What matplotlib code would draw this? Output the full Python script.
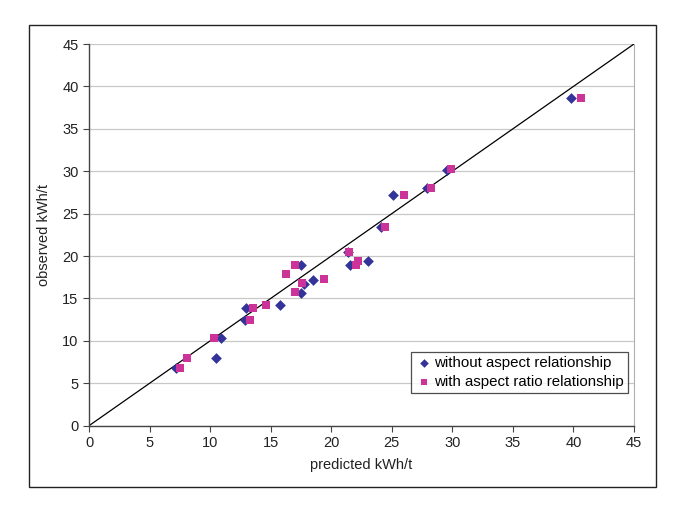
import matplotlib
matplotlib.use("Agg")
import matplotlib.pyplot as plt
from matplotlib.patches import Rectangle

plt.rcParams["font.family"] = ["Liberation Sans", "DejaVu Sans"]

# without aspect relationship (blue diamonds)
pred_without = [7.2, 10.5, 10.9, 12.85, 13.0, 15.75, 17.5, 17.75, 17.5, 18.5,
                21.55, 23.05, 21.35, 24.1, 25.1, 27.9, 29.6, 39.8]
obs_without = [6.85, 8.0, 10.3, 12.5, 13.85, 14.2, 18.95, 16.75, 15.7, 17.2,
               18.95, 19.45, 20.5, 23.4, 27.2, 28.0, 30.2, 38.6]

# with aspect ratio relationship (magenta squares)
pred_with = [7.5, 8.1, 10.3, 13.3, 13.5, 14.65, 17.0, 16.3, 17.55, 17.0,
             19.4, 21.45, 22.05, 22.25, 24.4, 26.0, 28.2, 29.9, 40.6]
obs_with = [6.8, 8.0, 10.3, 12.5, 13.85, 14.25, 19.0, 17.85, 16.8, 15.75,
            17.25, 20.5, 18.95, 19.45, 23.4, 27.25, 28.05, 30.25, 38.65]

ticks = [0, 5, 10, 15, 20, 25, 30, 35, 40, 45]
BLUE = "#333399"
PINK = "#cc3399"

fig = plt.figure(figsize=(6.73, 5.08), dpi=100)
ax = fig.add_axes([89 / 673, 1 - 425.7 / 508, (634 - 89) / 673, (425.7 - 44) / 508])

# outer chart frame
fig.patches.append(Rectangle((28.5 / 673, 1 - 487 / 508), (656 - 28.5) / 673,
                             (487 - 25) / 508, transform=fig.transFigure,
                             fill=False, edgecolor="#222222", lw=1.0))

ax.set_xlim(0, 45)
ax.set_ylim(0, 45)
ax.set_xticks(ticks)
ax.set_yticks(ticks)
ax.grid(axis="y", color="#c8c8c8", lw=0.9)
ax.set_axisbelow(True)

ax.plot([0, 45], [0, 45], color="black", lw=0.9, zorder=2)
ax.scatter(pred_without, obs_without, marker="D", s=30, color=BLUE, lw=0,
           label="without aspect relationship", zorder=3)
ax.scatter(pred_with, obs_with, marker="s", s=32, color=PINK, lw=0,
           label="with aspect ratio relationship", zorder=3)

for side in ("left", "bottom"):
    ax.spines[side].set_color("#444444")
    ax.spines[side].set_linewidth(1.0)
for side in ("right", "top"):
    ax.spines[side].set_color("#b0b0b0")
    ax.spines[side].set_linewidth(0.8)
ax.spines["top"].set_visible(False)

ax.tick_params(direction="out", length=4, width=0.8, color="#444444",
               labelsize=10.5, labelcolor="#222222")
ax.set_xlabel("predicted kWh/t", fontsize=10.5, color="#222222", labelpad=6)
ax.set_ylabel("observed kWh/t", fontsize=10.5, color="#222222", labelpad=8)

leg = ax.legend(loc="lower right", bbox_to_anchor=(0.989, 0.085),
                fontsize=10.8, frameon=True, fancybox=False, borderpad=0.3,
                handletextpad=0.1, labelspacing=0.3, handlelength=1.1,
                borderaxespad=0, markerscale=0.8)
leg.get_frame().set_edgecolor("#222222")
leg.get_frame().set_linewidth(0.9)

fig.savefig("out.png", dpi=100)
